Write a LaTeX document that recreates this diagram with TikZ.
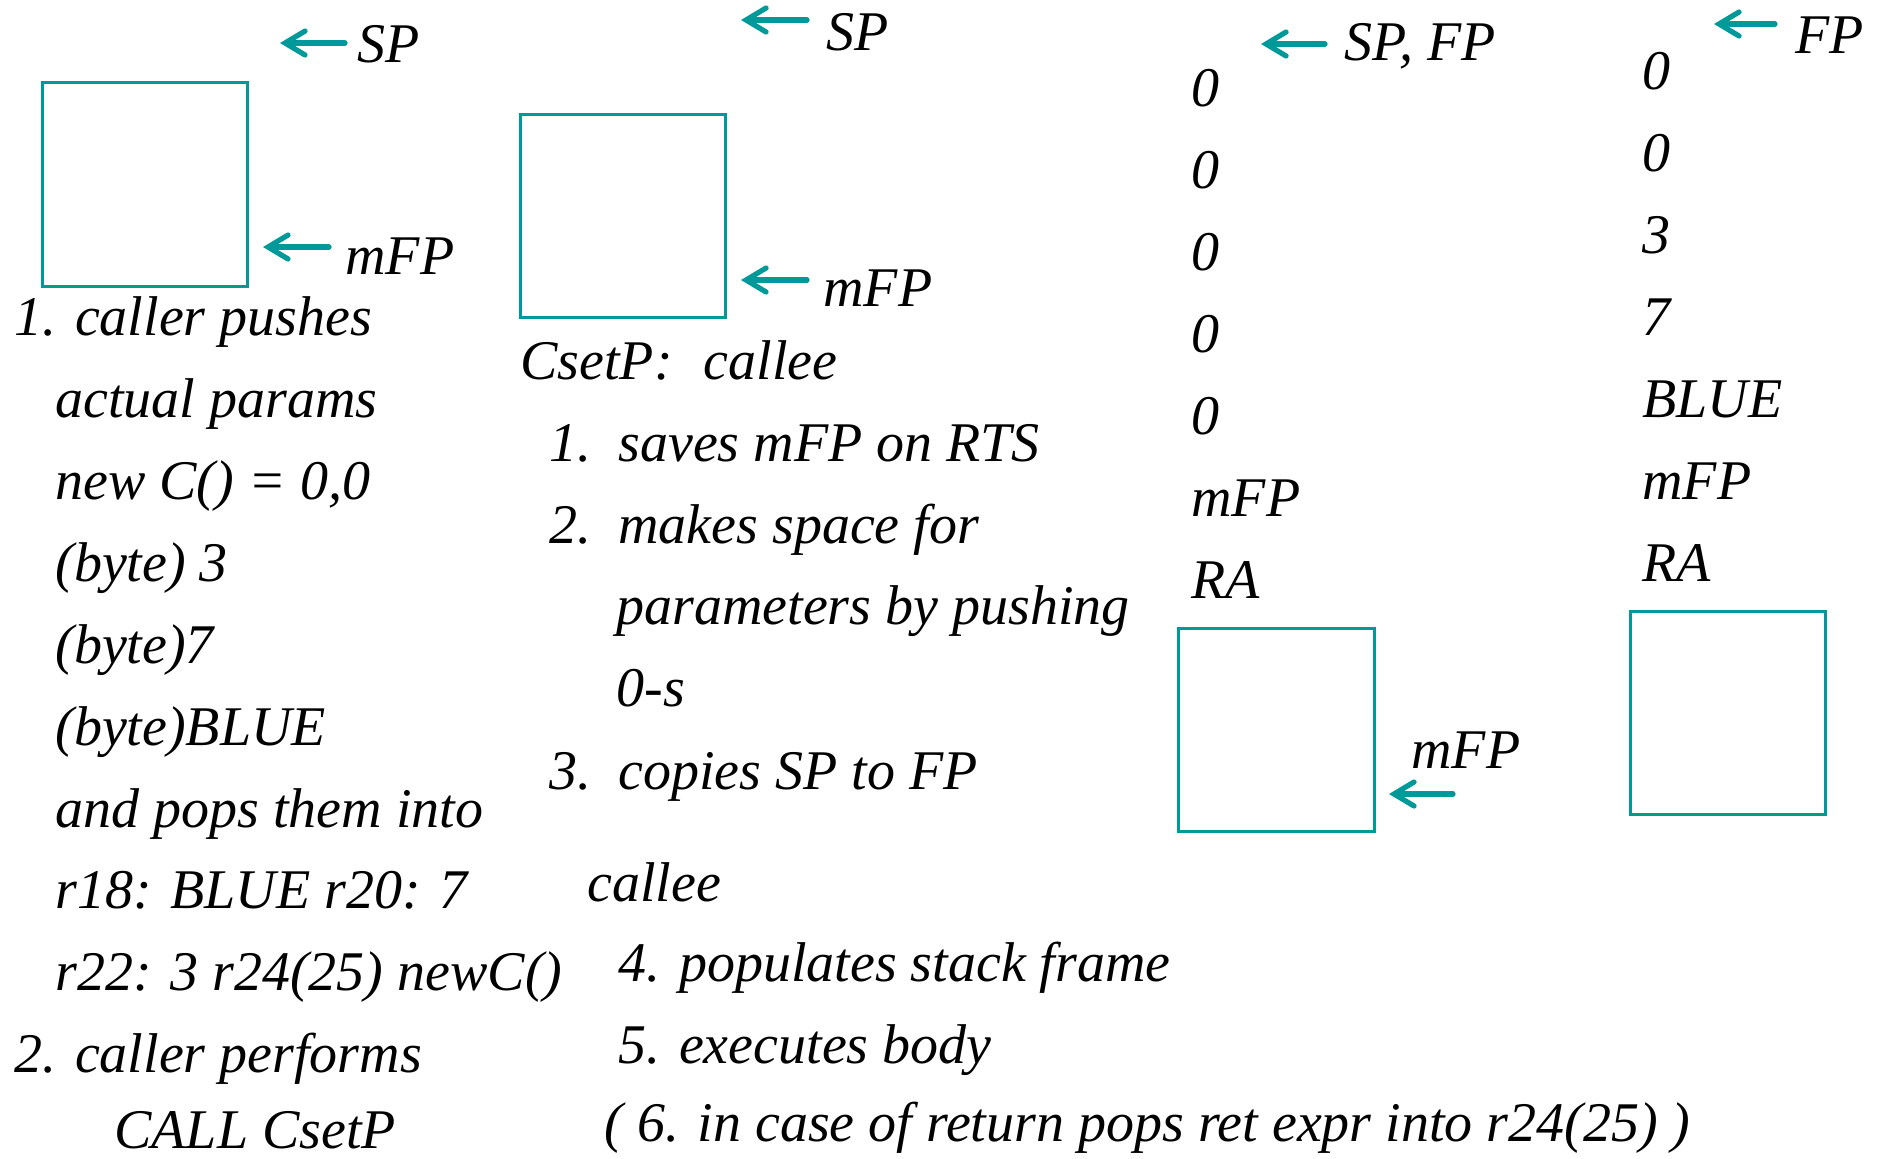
\documentclass[tikz,border=0pt]{standalone}
\usepackage{fontspec}
\setmainfont{Liberation Serif}
\usetikzlibrary{arrows.meta}
\definecolor{StackTeal}{RGB}{0,153,153}

\begin{document}
\begin{tikzpicture}[
      x=0.5pt, y=-0.5pt,
      txt/.style={anchor=base west, inner sep=0pt, font=\fontsize{28}{34}\selectfont\itshape},
      stackbox/.style={draw=StackTeal, line width=1.5pt},
      ptr/.style={-{Straight Barb[length=10pt,width=12pt,line cap=round]}, StackTeal, line width=2.6pt, line cap=round}
    ]
      \useasboundingbox (0,0) rectangle (1883,1158);

      % caller side
      \draw[stackbox] (42,82) rectangle (247,286);
      \coordinate (spA) at (345,43);   \coordinate (spAtip) at (280,43);
      \coordinate (mfpA) at (329,247); \coordinate (mfpAtip) at (263,247);
      \node[txt] (spAlbl) at (357,62) {SP};
      \node[txt] (mfpAlbl) at (345,274) {mFP};
      \draw[ptr] (spA) -- (spAtip);
      \draw[ptr] (mfpA) -- (mfpAtip);

      \node[txt] (callA) at (14,335) {1. caller pushes};
      \node[txt] (callB) at (55,417) {actual params};
      \node[txt] (callC) at (55,499) {new C() = 0,0};
      \node[txt] (callD) at (55,581) {(byte) 3};
      \node[txt] (callE) at (55,663) {(byte)7};
      \node[txt] (callF) at (55,745) {(byte)BLUE};
      \node[txt] (callG) at (55,827) {and pops them into};
      \node[txt] (callH) at (55,908) {r18: BLUE r20: 7};
      \node[txt] (callI) at (55,990) {r22: 3 r24(25) newC()};
      \node[txt] (callJ) at (14,1072) {2. caller performs};
      \node[txt] (callK) at (114,1148) {CALL CsetP};

      % callee prologue
      \draw[stackbox] (520,114) rectangle (725,317);
      \coordinate (spB) at (807,20);   \coordinate (spBtip) at (741,20);
      \coordinate (mfpB) at (807,280); \coordinate (mfpBtip) at (741,280);
      \node[txt] (spBlbl) at (826,50) {SP};
      \node[txt] (mfpBlbl) at (823,306) {mFP};
      \draw[ptr] (spB) -- (spBtip);
      \draw[ptr] (mfpB) -- (mfpBtip);

      \node[txt] (calleeA) at (520,379) {CsetP:\hspace{0.55em}callee};
      \node[txt] (calleeB) at (549,461) {\makebox[34.5pt][l]{1.}saves mFP on RTS};
      \node[txt] (calleeC) at (549,543) {\makebox[34.5pt][l]{2.}makes space for};
      \node[txt] (calleeD) at (616,624) {parameters by pushing};
      \node[txt] (calleeE) at (616,706) {0-s};
      \node[txt] (calleeF) at (549,789) {\makebox[34.5pt][l]{3.}copies SP to FP};
      \node[txt] (calleeG) at (587,901) {callee};
      \node[txt] (calleeH) at (618,981) {4. populates stack frame};
      \node[txt] (calleeI) at (618,1063) {5. executes body};
      \node[txt] (calleeJ) at (604,1141) {( 6. in case of return pops ret expr into r24(25) )};

      % frame after the prologue
      \coordinate (spfpC) at (1325,44); \coordinate (spfpCtip) at (1261,44);
      \node[txt] (spfpClbl) at (1344,60) {SP, FP};
      \draw[ptr] (spfpC) -- (spfpCtip);
      \node[txt] (slotC1) at (1191,106) {0};
      \node[txt] (slotC2) at (1191,188) {0};
      \node[txt] (slotC3) at (1191,270) {0};
      \node[txt] (slotC4) at (1191,352) {0};
      \node[txt] (slotC5) at (1191,434) {0};
      \node[txt] (slotC6) at (1191,516) {mFP};
      \node[txt] (slotC7) at (1191,598) {RA};
      \draw[stackbox] (1178,628) rectangle (1374,831);
      \coordinate (mfpC) at (1453,794); \coordinate (mfpCtip) at (1389,794);
      \node[txt] (mfpClbl) at (1411,768) {mFP};
      \draw[ptr] (mfpC) -- (mfpCtip);

      % populated frame
      \coordinate (fpD) at (1775,24); \coordinate (fpDtip) at (1714,24);
      \node[txt] (fpDlbl) at (1795,53) {FP};
      \draw[ptr] (fpD) -- (fpDtip);
      \node[txt] (slotD1) at (1642,89) {0};
      \node[txt] (slotD2) at (1642,171) {0};
      \node[txt] (slotD3) at (1642,253) {3};
      \node[txt] (slotD4) at (1642,335) {7};
      \node[txt] (slotD5) at (1642,417) {BLUE};
      \node[txt] (slotD6) at (1642,499) {mFP};
      \node[txt] (slotD7) at (1642,581) {RA};
      \draw[stackbox] (1630,611) rectangle (1825,814);
    \end{tikzpicture}
\end{document}
